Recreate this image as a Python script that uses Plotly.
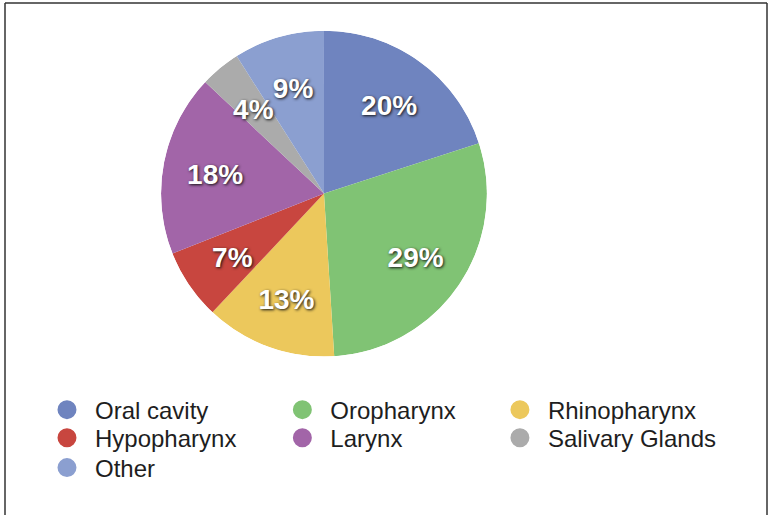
import plotly.graph_objects as go

categories = ["Oral cavity", "Oropharynx", "Rhinopharynx", "Hypopharynx", "Larynx", "Salivary Glands", "Other"]
values = [20, 29, 13, 7, 18, 4, 9]
colors = ["#6f84bf", "#80c374", "#ecc85c", "#c8463f", "#a265a8", "#ababab", "#8b9fd0"]

# legend placement (paper coords): 3 columns, filled row-wise as in the reference
legend_x = [0.0446, 0.3535, 0.639, 0.0446, 0.3535, 0.639, 0.0446]
legend_y = [0.205, 0.205, 0.205, 0.150, 0.150, 0.150, 0.0918]

PIE_DOMAIN = dict(x=[0.2046, 0.6326], y=[0.3095, 0.946])
# label overlay: same circle, nudged down a few px so digits sit centred
LABEL_DOMAIN = dict(x=PIE_DOMAIN["x"], y=[PIE_DOMAIN["y"][0] - 0.008, PIE_DOMAIN["y"][1] - 0.008])
LABEL_R = 0.68  # radial position of the percentage labels (fraction of radius)

total = sum(values)
thetas, widths, texts, cum = [], [], [], 0.0
for v in values:
    thetas.append((cum + v / 2) / total * 360.0)
    widths.append(v / total * 360.0)
    texts.append(f"{v / total:.0%}")
    cum += v

fig = go.Figure()
# pie drawn as full-radius polar wedges
fig.add_trace(go.Barpolar(
    r=[1] * len(values), theta=thetas, width=widths,
    marker=dict(color=colors, line=dict(width=0)),
    customdata=categories, hovertemplate="%{customdata}<extra></extra>",
    showlegend=False, subplot="polar",
))
# percentage labels at each slice's bisector
fig.add_trace(go.Scatterpolar(
    r=[LABEL_R] * len(values), theta=thetas, text=texts, mode="text",
    textposition="middle center",
    textfont=dict(family="Liberation Sans, Arial, sans-serif", size=28, color="white",
                  weight="bold", shadow="1px 1px 3px #111"),
    showlegend=False, hoverinfo="skip", subplot="polar2",
))

legend_font = dict(family="Liberation Sans, Arial, sans-serif", size=24, color="#1e1e1e")
layout_legends = {}
for i, (name, col) in enumerate(zip(categories, colors)):
    key = "legend" if i == 0 else f"legend{i+1}"
    fig.add_trace(go.Scatter(
        x=[None], y=[None], mode="markers", name=name,
        marker=dict(symbol="circle", size=16, color=col, line=dict(color=col, width=3)),
        legend=key, showlegend=True,
    ))
    layout_legends[key] = dict(
        x=legend_x[i], y=legend_y[i], xanchor="left", yanchor="middle",
        font=legend_font, bgcolor="rgba(0,0,0,0)", orientation="v",
        itemsizing="trace", itemwidth=46,
    )

polar_common = dict(
    bgcolor="rgba(0,0,0,0)", hole=0,
    radialaxis=dict(visible=False, range=[0, 1]),
    angularaxis=dict(visible=False, rotation=90, direction="clockwise"),
)

fig.update_layout(
    width=770, height=515,
    margin=dict(l=5, r=3, t=3, b=0),
    paper_bgcolor="white", plot_bgcolor="white",
    xaxis=dict(visible=False), yaxis=dict(visible=False),
    polar=dict(domain=PIE_DOMAIN, **polar_common),
    polar2=dict(domain=LABEL_DOMAIN, **polar_common),
    shapes=[
        dict(type="line", xref="paper", yref="paper", x0=0, x1=1, y0=1, y1=1, line=dict(color="#333", width=1.5)),
        dict(type="line", xref="paper", yref="paper", x0=0, x1=0, y0=0, y1=1, line=dict(color="#333", width=1.5)),
        dict(type="line", xref="paper", yref="paper", x0=1, x1=1, y0=0, y1=1, line=dict(color="#333", width=1.5)),
    ],
    **layout_legends,
)

fig.write_html("out.html", config={"displayModeBar": False},
               post_script="document.body.style.margin='0';")
